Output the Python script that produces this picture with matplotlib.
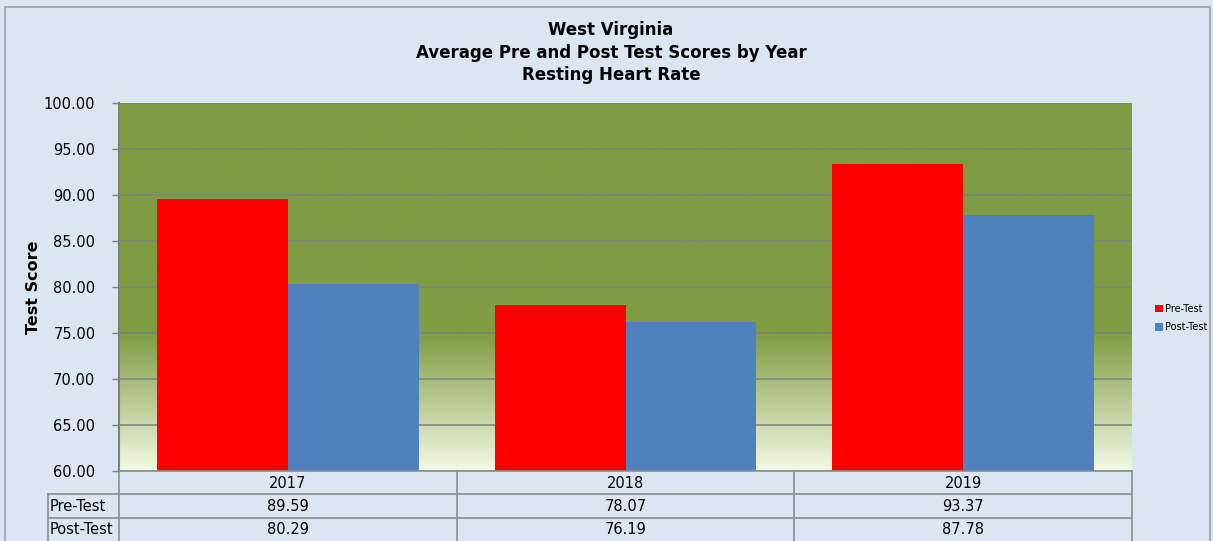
import numpy as np
import matplotlib
matplotlib.use("Agg")
import matplotlib.pyplot as plt
from matplotlib.colors import LinearSegmentedColormap

# ---- data ----
years = ["2017", "2018", "2019"]
pre_test = [89.59, 78.07, 93.37]
post_test = [80.29, 76.19, 87.78]
series_names = ["Pre-Test", "Post-Test"]
title_lines = ["West Virginia", "Average Pre and Post Test Scores by Year", "Resting Heart Rate"]
y_ticks = [60, 65, 70, 75, 80, 85, 90, 95, 100]

W, H = 1213, 541
BG = "#DCE6F2"
GRID = "#808080"
RED = "#FF0000"
BLUE = "#4F81BD"

fig = plt.figure(figsize=(W / 100, H / 100), dpi=100, facecolor=BG)
plt.rcParams['font.family'] = ['DejaVu Sans']

def fx(px):
    return px / W

def fy(py):
    return 1 - py / H

L, R, T, B = 119, 1132, 103, 471
ax = fig.add_axes([fx(L), fy(B), fx(R - L), (B - T) / H])
ax.set_xlim(-0.5, len(years) - 0.5)
ax.set_ylim(60, 100)

cmap = LinearSegmentedColormap.from_list("g", [(0, "#F3F9E4"), (1, "#7F9C43")])
yy = np.linspace(60, 100, 400)
vals = np.clip((yy - 60) / 15.0, 0, 1)
ax.imshow(vals[:, None], extent=[-0.5, len(years) - 0.5, 60, 100], origin="lower",
          aspect="auto", cmap=cmap, vmin=0, vmax=1, zorder=0, interpolation="bilinear")

for t in y_ticks:
    ax.axhline(t, color=GRID, lw=1.1, zorder=1)

x = np.arange(len(years))
bw = 0.3875
b1 = ax.bar(x - bw / 2, np.array(pre_test) - 60, bw, bottom=60, color=RED, zorder=2, label=series_names[0])
b2 = ax.bar(x + bw / 2, np.array(post_test) - 60, bw, bottom=60, color=BLUE, zorder=2, label=series_names[1])

ax.set_yticks(y_ticks)
ax.set_yticklabels([f"{t:.2f}" for t in y_ticks], fontsize=10.5)
ax.tick_params(axis="y", length=5, color=GRID, pad=12, width=1)
ax.set_xticks([])
for s in ["top", "right", "bottom"]:
    ax.spines[s].set_visible(False)
ax.spines["left"].set_color(GRID)
ax.spines["left"].set_linewidth(1.5)

for i, line in enumerate(title_lines):
    fig.text(fx(611), fy(30 + 22.5 * i), line, ha="center", va="center",
             fontsize=12, fontweight="bold")

fig.text(fx(33), fy(287), "Test Score", rotation=90, ha="center", va="center",
         fontsize=11.5, fontweight="bold")

ov = fig.add_axes([0, 0, 1, 1], facecolor="none")
ov.set_xlim(0, W)
ov.set_ylim(H, 0)
ov.axis("off")

ov.plot([5, 5, 1210, 1210], [H + 5, 7, 7, H + 5], color="#A0A0A0", lw=1.2)

n = len(years)
cw = (R - L) / n
lc = "#8C8C8C"
ov.plot([L, R], [B, B], color=lc, lw=1.2)
ov.plot([48, R], [494, 494], color=lc, lw=1.2)
ov.plot([48, R], [518, 518], color=lc, lw=1.2)
ov.plot([48, 48], [494, 545], color=lc, lw=1.2)
for k in range(n + 1):
    ov.plot([L + k * cw, L + k * cw], [B, 545], color=lc, lw=1.2)

for i, yr in enumerate(years):
    cx = L + (i + 0.5) * cw
    ov.text(cx, 483, yr, ha="center", va="center", fontsize=10.5)
    ov.text(cx, 506.5, f"{pre_test[i]:.2f}", ha="center", va="center", fontsize=10.5)
    ov.text(cx, 530, f"{post_test[i]:.2f}", ha="center", va="center", fontsize=10.5)
ov.text(50, 506.5, series_names[0], ha="left", va="center", fontsize=10.5)
ov.text(50, 530, series_names[1], ha="left", va="center", fontsize=10.5)

fig.legend(handles=[b1, b2], labels=series_names, loc="center left",
           bbox_to_anchor=(fx(1146), fy(318)), frameon=False, fontsize=7,
           handlelength=0.8, handleheight=0.8, handletextpad=0.25, labelspacing=0.9)

fig.savefig("out.png", dpi=100, facecolor=BG)
